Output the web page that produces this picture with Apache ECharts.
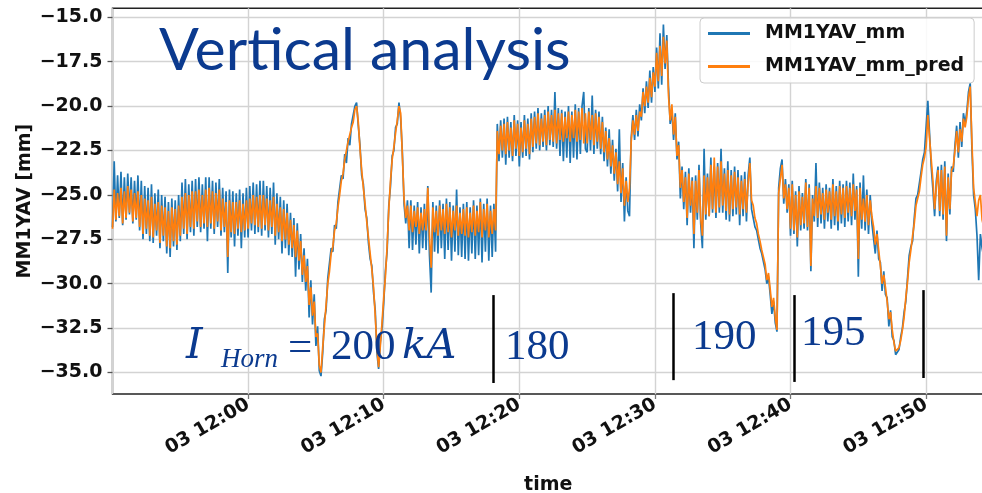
<!DOCTYPE html>
<html>
<head>
<meta charset="utf-8">
<script src="https://cdn.jsdelivr.net/npm/echarts@6/dist/echarts.min.js"></script>
<style>
  html, body { margin: 0; padding: 0; background: #ffffff; }
  #chart { width: 982px; height: 493px; }
</style>
</head>
<body>
<div id="chart"></div>
<script>
// Beam position monitor MM1YAV, measured vs. predicted, one sample every 7.5 s from 11:50:00
const startTimeUtc = Date.UTC(2018, 4, 3, 11, 50, 0);
const sampleStepSeconds = 7.5;

// Measured vertical position [mm], one row per minute
const measured = [
  -26.8, -23.1, -26.5, -23.9, -26.3, -23.7, -26.7, -24.0,
  -26.4, -23.8, -26.1, -24.0, -26.6, -24.2, -26.4, -23.9,
  -27.0, -24.2, -27.5, -24.5, -27.2, -24.6, -27.6, -24.4,
  -27.7, -24.9, -27.3, -24.7, -28.0, -25.0, -27.6, -25.1,
  -28.3, -25.4, -28.5, -25.2, -27.9, -25.3, -28.1, -25.0,
  -27.6, -24.3, -27.2, -24.1, -27.5, -24.4, -27.1, -24.2,
  -27.3, -24.1, -26.8, -24.0, -27.1, -24.4, -26.9, -24.0,
  -27.6, -24.0, -26.9, -24.2, -27.2, -24.3, -26.8, -24.1,
  -27.3, -24.6, -27.1, -24.8, -29.4, -24.7, -27.4, -24.8,
  -27.9, -24.9, -27.3, -24.7, -28.0, -24.9, -27.4, -24.6,
  -27.4, -24.5, -27.0, -24.3, -27.2, -24.4, -27.1, -24.2,
  -27.3, -24.2, -27.0, -24.5, -27.4, -24.6, -27.2, -24.3,
  -27.8, -24.9, -27.5, -25.1, -28.3, -25.3, -28.0, -25.5,
  -28.4, -26.0, -28.5, -26.3, -29.6, -26.6, -29.2, -27.2,
  -29.9, -28.0, -30.4, -28.6, -31.9, -29.8, -32.3, -30.6,
  -33.5, -32.4, -34.9, -35.2, -33.9, -32.0, -31.5, -29.7,
  -29.6, -28.0, -28.2, -26.7, -26.9, -25.4, -25.3, -23.9,
  -24.1, -22.7, -23.2, -21.8, -22.2, -21.0, -21.1, -20.0,
  -19.8, -21.1, -22.2, -23.9, -24.4, -25.8, -26.3, -27.7,
  -28.6, -29.0, -30.5, -31.5, -33.9, -34.8, -33.3, -32.5,
  -31.1, -29.3, -28.2, -25.6, -24.5, -22.8, -22.5, -21.2,
  -21.0, -19.8, -20.7, -22.6, -25.5, -26.6, -25.3, -28.0,
  -25.3, -28.1, -25.6, -27.8, -25.4, -28.3, -25.7, -28.0,
  -25.5, -28.1, -24.5, -28.4, -30.5, -25.4, -28.2, -25.6,
  -28.3, -25.3, -28.0, -25.5, -28.6, -25.2, -28.1, -25.4,
  -28.7, -25.6, -28.2, -24.7, -28.4, -25.7, -28.5, -25.5,
  -28.6, -25.4, -28.7, -25.7, -28.3, -25.3, -28.6, -25.6,
  -28.4, -25.2, -28.8, -25.5, -28.2, -25.2, -28.7, -25.6,
  -28.5, -25.5, -28.2, -21.0, -23.1, -20.8, -22.9, -20.7,
  -23.3, -20.6, -22.9, -20.9, -23.1, -20.5, -22.8, -20.8,
  -23.4, -20.9, -22.9, -20.5, -22.8, -20.7, -23.0, -20.4,
  -22.6, -20.3, -22.4, -20.1, -22.5, -20.4, -22.3, -20.2,
  -22.5, -20.0, -22.2, -20.2, -22.3, -19.2, -22.4, -20.1,
  -22.8, -20.2, -23.1, -20.3, -22.9, -20.0, -23.2, -20.3,
  -22.9, -19.9, -23.0, -20.1, -22.7, -20.0, -19.2, -22.4,
  -22.6, -20.1, -22.5, -19.4, -22.7, -20.2, -22.4, -20.3,
  -22.7, -20.6, -23.1, -21.2, -23.4, -21.3, -23.8, -21.9,
  -24.2, -22.4, -24.8, -21.3, -25.4, -23.2, -26.5, -24.0,
  -25.9, -26.2, -21.8, -20.5, -21.9, -20.2, -21.7, -19.9,
  -20.8, -19.0, -20.4, -18.6, -20.1, -18.0, -19.8, -17.8,
  -19.2, -16.7, -19.0, -15.9, -18.8, -15.4, -17.9, -16.0,
  -18.9, -21.0, -20.2, -21.9, -20.4, -23.0, -22.0, -25.2,
  -23.4, -25.8, -23.7, -26.7, -23.5, -26.0, -24.0, -28.0,
  -23.9, -26.4, -23.3, -26.6, -28.0, -22.4, -26.4, -23.8,
  -26.2, -22.9, -26.0, -23.4, -26.3, -23.2, -26.0, -22.4,
  -26.0, -23.5, -26.4, -23.1, -26.5, -23.6, -26.2, -23.4,
  -26.1, -23.6, -26.7, -23.9, -26.2, -23.7, -26.5, -23.9,
  -22.9, -25.8, -25.9, -26.8, -27.0, -27.5, -28.0, -28.3,
  -28.4, -29.2, -30.0, -29.6, -30.6, -31.7, -31.0, -32.2,
  -32.7, -24.6, -23.5, -23.0, -25.5, -24.1, -26.0, -24.4,
  -27.3, -24.2, -27.2, -24.8, -27.9, -24.5, -27.0, -24.9,
  -26.9, -24.1, -27.0, -24.4, -29.3, -25.0, -26.5, -23.2,
  -26.8, -24.3, -26.6, -24.6, -26.9, -24.4, -26.5, -24.6,
  -26.9, -24.1, -26.7, -24.5, -27.0, -24.2, -26.6, -24.4,
  -26.8, -24.2, -26.5, -24.3, -26.7, -23.8, -26.4, -24.5,
  -29.6, -24.3, -26.9, -23.9, -27.0, -24.7, -27.2, -25.0,
  -26.6, -26.5, -28.3, -27.0, -28.6, -28.8, -30.4, -29.3,
  -30.6, -30.8, -32.4, -31.5, -33.0, -33.2, -34.0, -33.9,
  -33.7, -33.0, -32.5, -31.6, -31.0, -29.7, -28.4, -27.9,
  -27.6, -26.3, -25.2, -25.0, -24.9, -23.7, -23.0, -22.6,
  -22.6, -19.7, -21.5, -23.4, -24.7, -26.2, -24.2, -23.4,
  -26.2, -23.3, -26.4, -23.1, -27.6, -23.8, -26.1, -23.4,
  -23.7, -22.2, -21.1, -22.9, -20.9, -22.3, -20.4, -21.0,
  -20.3, -19.2, -18.7, -22.4, -25.0, -25.8, -27.3, -29.8,
  -27.2, -28.0, -28.5
];

// Model prediction [mm], one row per minute
const predicted = [
  -26.9, -24.7, -26.4, -24.9, -26.2, -24.6, -26.6, -24.8,
  -26.3, -24.5, -26.0, -24.7, -26.5, -24.9, -26.3, -24.8,
  -26.8, -25.0, -27.2, -25.2, -26.9, -25.3, -27.3, -25.1,
  -27.4, -25.5, -27.0, -25.4, -27.7, -25.6, -27.3, -25.7,
  -27.9, -25.9, -28.0, -25.7, -27.6, -25.8, -27.8, -25.6,
  -27.3, -25.1, -26.9, -24.9, -27.2, -25.0, -26.8, -24.8,
  -26.9, -24.8, -26.5, -24.7, -26.8, -25.0, -26.6, -24.7,
  -26.8, -24.6, -26.6, -24.8, -26.9, -24.9, -26.5, -24.7,
  -27.0, -25.2, -26.8, -25.4, -28.5, -25.3, -27.1, -25.4,
  -27.2, -25.4, -26.9, -25.3, -27.1, -25.5, -27.0, -25.3,
  -26.9, -25.2, -26.6, -25.0, -26.7, -25.1, -26.8, -25.0,
  -26.9, -25.0, -26.7, -25.2, -27.0, -25.3, -26.8, -25.1,
  -27.3, -25.5, -27.1, -25.7, -27.6, -25.8, -27.5, -26.0,
  -27.8, -26.4, -28.0, -26.7, -28.5, -27.0, -28.7, -27.6,
  -29.5, -28.4, -29.9, -29.0, -31.2, -30.2, -31.8, -31.0,
  -33.0, -32.8, -34.6, -35.0, -33.6, -32.4, -31.2, -30.0,
  -29.3, -28.3, -27.9, -27.0, -26.6, -25.7, -25.0, -24.2,
  -23.8, -23.0, -22.9, -22.0, -21.9, -21.2, -20.9, -20.2,
  -20.0, -20.9, -22.4, -23.6, -24.6, -25.5, -26.5, -27.4,
  -28.3, -29.2, -30.2, -31.8, -33.6, -34.7, -33.5, -32.2,
  -30.8, -29.6, -27.9, -25.8, -24.2, -23.0, -22.3, -21.5,
  -20.8, -20.0, -20.4, -22.8, -25.2, -26.3, -25.6, -27.0,
  -25.6, -27.1, -25.9, -26.8, -25.7, -27.2, -26.0, -27.0,
  -25.8, -27.0, -24.6, -27.3, -29.1, -25.7, -27.1, -25.9,
  -27.3, -25.6, -27.0, -25.8, -27.2, -25.5, -27.1, -25.7,
  -27.4, -25.9, -27.0, -25.6, -27.3, -26.0, -27.2, -25.8,
  -27.3, -25.7, -27.4, -26.0, -27.1, -25.6, -27.3, -25.9,
  -27.1, -25.4, -27.4, -25.8, -27.0, -25.5, -27.4, -25.9,
  -27.2, -25.8, -27.0, -21.4, -22.7, -21.1, -22.5, -21.0,
  -22.7, -20.9, -22.5, -21.2, -22.8, -20.8, -22.4, -21.0,
  -22.8, -21.2, -22.6, -20.8, -22.4, -21.0, -22.7, -20.7,
  -22.3, -20.6, -22.1, -20.4, -22.2, -20.7, -22.0, -20.5,
  -22.2, -20.3, -21.9, -20.5, -22.0, -20.2, -22.1, -20.4,
  -21.9, -20.4, -22.0, -20.6, -21.8, -20.3, -22.0, -20.5,
  -21.8, -20.2, -22.0, -20.3, -21.9, -20.1, -22.1, -20.4,
  -22.1, -20.3, -21.9, -20.5, -22.2, -20.4, -22.0, -20.6,
  -22.4, -20.9, -22.6, -21.4, -23.0, -21.8, -23.4, -22.2,
  -23.8, -22.6, -24.4, -23.1, -24.9, -23.5, -25.6, -24.2,
  -25.4, -24.6, -22.0, -20.8, -21.6, -20.5, -21.4, -20.3,
  -20.6, -19.2, -20.0, -18.9, -19.8, -18.4, -19.5, -18.1,
  -18.9, -17.0, -18.6, -16.6, -18.3, -16.1, -17.6, -16.3,
  -19.4, -20.8, -19.9, -21.6, -20.6, -22.8, -22.2, -24.6,
  -23.6, -25.4, -24.0, -26.3, -23.8, -25.6, -24.2, -27.2,
  -24.2, -26.0, -23.6, -26.3, -27.3, -23.9, -26.1, -24.0,
  -26.2, -23.3, -25.8, -22.9, -26.0, -23.4, -25.7, -23.1,
  -25.6, -23.8, -25.9, -23.6, -26.1, -23.9, -25.8, -23.7,
  -25.7, -24.0, -26.1, -24.2, -25.8, -24.1, -26.0, -24.3,
  -23.2, -25.3, -25.6, -26.3, -26.6, -27.2, -27.6, -28.1,
  -28.0, -28.9, -29.8, -29.4, -30.3, -31.3, -30.8, -31.9,
  -32.6, -24.9, -24.1, -23.3, -25.2, -24.4, -25.8, -24.6,
  -26.9, -24.4, -27.0, -25.0, -27.4, -24.8, -26.7, -25.1,
  -26.6, -24.3, -26.8, -24.6, -29.0, -25.2, -26.2, -24.5,
  -26.3, -24.6, -26.1, -24.9, -26.4, -24.7, -26.0, -24.8,
  -26.4, -24.4, -26.2, -24.8, -26.5, -24.5, -26.1, -24.6,
  -26.3, -24.5, -26.0, -24.6, -26.2, -24.4, -25.9, -24.7,
  -28.6, -24.6, -26.4, -25.2, -26.5, -25.0, -26.7, -25.3,
  -26.2, -26.8, -27.8, -27.2, -28.1, -29.0, -30.0, -29.5,
  -30.2, -31.0, -32.0, -31.6, -32.6, -33.3, -33.8, -33.9,
  -33.6, -33.2, -32.6, -31.9, -30.8, -29.9, -28.8, -28.1,
  -27.3, -26.6, -25.6, -25.2, -24.8, -24.0, -23.3, -22.9,
  -22.3, -20.5, -21.8, -23.0, -24.2, -25.8, -24.5, -23.6,
  -25.9, -23.6, -26.1, -23.4, -27.3, -24.0, -25.8, -23.6,
  -23.4, -22.5, -21.4, -22.6, -21.3, -22.0, -20.7, -21.2,
  -20.6, -19.5, -18.9, -22.0, -24.6, -25.4, -26.2, -25.3,
  -25.0, -26.4, -26.8
];

// Horn current settings: boundary times (HH:MM:SS) and the vertical span of each marker [mm]
const hornBoundaries = ['12:18:04', '12:31:19', '12:40:16', '12:49:45'];
const hornBoundaryTop = [-30.64, -30.53, -30.64, -30.36];
const hornBoundaryBottom = [-35.59, -35.43, -35.53, -35.31];

const seriesNames = ['MM1YAV_mm', 'MM1YAV_mm_pred'];
const yTickMin = -35, yTickMax = -15, yTickStep = 2.5;

const MIN = 60000;
function toPairs(values) {
  return values.map((v, i) => [startTimeUtc + i * sampleStepSeconds * 1000, v]);
}
function clockToUtc(hms) {
  const [h, m, s] = hms.split(':').map(Number);
  return Date.UTC(2018, 4, 3, h, m, s);
}
const pad = n => String(n).padStart(2, '0');

const AXIS_FONT = { fontFamily: 'DejaVu Sans', fontWeight: 'bold', fontSize: 19, color: '#111111' };
const TEXT_BLUE = '#0b3a8f';

const chart = echarts.init(document.getElementById('chart'), null, { renderer: 'canvas' });

const plotLeft = 112.5, plotRight = -2;

const option = {
  animation: false,
  backgroundColor: '#ffffff',
  grid: [
    { left: plotLeft, right: plotRight, top: 8.3, bottom: 99, show: true,
      borderColor: '#222222', borderWidth: 1.4, backgroundColor: 'transparent',
      containLabel: false, outerBoundsMode: 'none' },
    { left: plotLeft, right: plotRight, top: 17.3, bottom: 120.5, show: false,
      containLabel: false, outerBoundsMode: 'none' }
  ],
  xAxis: [
    {
      type: 'value', gridIndex: 0,
      min: startTimeUtc, max: startTimeUtc + 3856000, interval: 10 * MIN,
      name: 'time', nameLocation: 'middle', nameGap: 82,
      nameTextStyle: AXIS_FONT,
      axisLine: { show: false },
      axisTick: { show: true, length: 5, lineStyle: { color: '#777777', width: 1.3 } },
      axisLabel: {
        show: true, rotate: 30, margin: 9, ...AXIS_FONT,
        showMinLabel: false, showMaxLabel: false,
        formatter: v => { const d = new Date(v); return pad(d.getUTCDate()) + ' ' + pad(d.getUTCHours()) + ':' + pad(d.getUTCMinutes()); }
      },
      splitLine: { show: true, lineStyle: { color: '#d3d3d3', width: 1.4 } }
    },
    { type: 'value', gridIndex: 1, show: false, min: 0, max: 1 }
  ],
  yAxis: [
    {
      type: 'value', gridIndex: 0, min: -36.21, max: -14.49,
      name: 'MM1YAV [mm]', nameLocation: 'middle', nameGap: 78,
      nameTextStyle: AXIS_FONT,
      axisLine: { show: false }, axisTick: { show: false },
      axisLabel: { show: false }, splitLine: { show: false }
    },
    {
      type: 'value', gridIndex: 1, min: yTickMin, max: yTickMax, interval: yTickStep,
      axisLine: { show: false },
      axisTick: { show: true, length: 5, lineStyle: { color: '#555555', width: 1.3 } },
      axisLabel: {
        show: true, margin: 10, ...AXIS_FONT,
        formatter: v => (v < 0 ? '\u2212' : '') + Math.abs(v).toFixed(1)
      },
      splitLine: { show: true, lineStyle: { color: '#d3d3d3', width: 1.4 } }
    }
  ],
  legend: {
    orient: 'vertical', left: 700, top: 18,
    padding: [6, 10, 7, 8], itemWidth: 42, itemHeight: 3, itemGap: 14,
    icon: 'rect',
    backgroundColor: 'rgba(255,255,255,0.85)', borderColor: '#cccccc', borderWidth: 1, borderRadius: 4,
    textStyle: { ...AXIS_FONT, padding: [0, 0, 0, 10] },
    data: seriesNames
  },
  series: [
    {
      name: seriesNames[0], type: 'line', xAxisIndex: 0, yAxisIndex: 0,
      data: toPairs(measured), showSymbol: false, symbol: 'none', sampling: null,
      lineStyle: { color: '#1f77b4', width: 1.7 }, itemStyle: { color: '#1f77b4' }, z: 2
    },
    {
      name: seriesNames[1], type: 'line', xAxisIndex: 0, yAxisIndex: 0,
      data: toPairs(predicted), showSymbol: false, symbol: 'none', sampling: null,
      lineStyle: { color: '#ff7f0e', width: 1.7 }, itemStyle: { color: '#ff7f0e' }, z: 3,
      markLine: {
        silent: true, symbol: 'none', label: { show: false },
        lineStyle: { color: '#000000', width: 2.5, type: 'solid' },
        data: hornBoundaries.map((t, i) => [
          { coord: [clockToUtc(t), hornBoundaryTop[i]] },
          { coord: [clockToUtc(t), hornBoundaryBottom[i]] }
        ])
      }
    }
  ],
  graphic: [
    { type: 'text', z: 100, x: 159, y: 50.8,
      style: { text: 'Vertical analysis', fill: TEXT_BLUE, font: '59px Lato', align: 'left', verticalAlign: 'middle' } },
    { type: 'text', z: 100, x: 186, y: 347.5,
      style: { text: 'I', fill: TEXT_BLUE, font: 'italic 42px "DejaVu Serif"', align: 'left', verticalAlign: 'middle' } },
    { type: 'text', z: 100, x: 221, y: 360,
      style: { text: 'Horn', fill: TEXT_BLUE, font: 'italic 27px "Liberation Serif"', align: 'left', verticalAlign: 'middle' } },
    { type: 'text', z: 100, x: 288, y: 349,
      style: { text: '=', fill: TEXT_BLUE, font: '43px "Liberation Serif"', align: 'left', verticalAlign: 'middle' } },
    { type: 'text', z: 100, x: 331, y: 347.5,
      style: { text: '200', fill: TEXT_BLUE, font: '43px "Liberation Serif"', align: 'left', verticalAlign: 'middle' } },
    { type: 'text', z: 100, x: 402, y: 347.5,
      style: { text: 'kA', fill: TEXT_BLUE, font: 'italic 41px "DejaVu Serif"', align: 'left', verticalAlign: 'middle' } },
    { type: 'text', z: 100, x: 505, y: 347.5,
      style: { text: '180', fill: TEXT_BLUE, font: '43px "Liberation Serif"', align: 'left', verticalAlign: 'middle' } },
    { type: 'text', z: 100, x: 692, y: 338,
      style: { text: '190', fill: TEXT_BLUE, font: '43px "Liberation Serif"', align: 'left', verticalAlign: 'middle' } },
    { type: 'text', z: 100, x: 801, y: 334,
      style: { text: '195', fill: TEXT_BLUE, font: '43px "Liberation Serif"', align: 'left', verticalAlign: 'middle' } }
  ]
};

chart.setOption(option);
</script>
</body>
</html>
